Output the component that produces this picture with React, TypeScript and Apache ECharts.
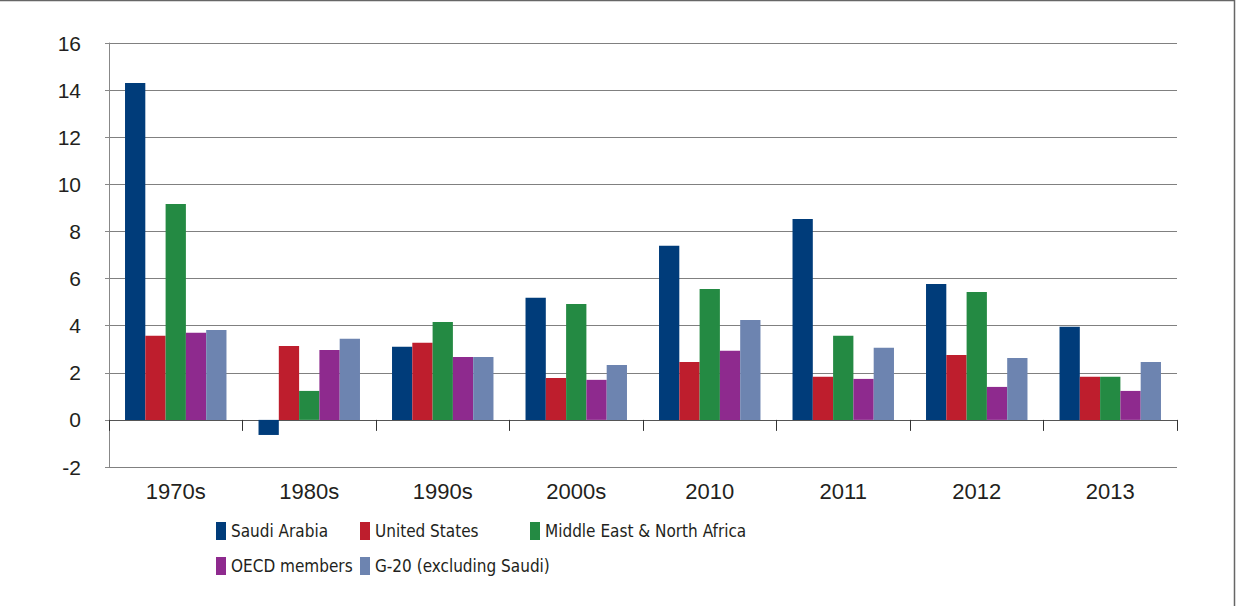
import React, { useEffect, useRef } from "react";
import * as echarts from "echarts";

const categories = ["1970s", "1980s", "1990s", "2000s", "2010", "2011", "2012", "2013"];
const saudiArabia = [14.3, -0.64, 3.1, 5.18, 7.39, 8.53, 5.77, 3.95];
const unitedStates = [3.57, 3.14, 3.27, 1.78, 2.46, 1.83, 2.76, 1.83];
const mena = [9.17, 1.23, 4.16, 4.92, 5.56, 3.57, 5.43, 1.83];
const oecd = [3.7, 2.97, 2.67, 1.7, 2.93, 1.74, 1.4, 1.23];
const g20 = [3.82, 3.44, 2.67, 2.33, 4.24, 3.06, 2.63, 2.46];
const seriesNames = [
  "Saudi Arabia",
  "United States",
  "Middle East & North Africa",
  "OECD members",
  "G-20 (excluding Saudi)",
];
const seriesColors = ["#003C7A", "#BE1E2D", "#248A43", "#8E2A8E", "#6D84B0"];
const yTicks = { min: -2, max: 16, interval: 2 };

const FONT = "'Liberation Sans', Arial, sans-serif";
const LEGEND_FONT = "'DejaVu Sans Condensed', 'Liberation Sans', sans-serif";
const TEXT = "#231F20";

export default function App() {
  const ref = useRef<HTMLDivElement>(null);
  useEffect(() => {
    if (!ref.current) return;
    const chart = echarts.init(ref.current, undefined, { renderer: "svg" });
    const data = [saudiArabia, unitedStates, mena, oecd, g20];
    const legendPos = [
      [216, 522],
      [360, 522],
      [530, 522],
      [216, 557],
      [360, 557],
    ];
    chart.setOption({
      animation: false,
      backgroundColor: "#ffffff",
      textStyle: { fontFamily: FONT },
      grid: { left: 109, right: 59, top: 43, bottom: 139, containLabel: false },
      legend: seriesNames.map((n, i) => ({
        data: [n],
        left: legendPos[i][0],
        top: legendPos[i][1],
        padding: 0,
        itemWidth: 10,
        itemHeight: 18,
        icon: "rect",
        selectedMode: false,
        textStyle: { fontFamily: LEGEND_FONT, fontSize: 17, color: TEXT },
      })),
      xAxis: {
        type: "category",
        data: categories,
        axisLine: { onZero: true, lineStyle: { color: "#555", width: 1 } },
        axisTick: { show: true, length: 11, lineStyle: { color: "#333" } },
        axisLabel: { margin: 13, fontSize: 22, color: TEXT, fontFamily: FONT },
      },
      yAxis: {
        type: "value",
        min: yTicks.min,
        max: yTicks.max,
        interval: yTicks.interval,
        axisLine: { show: true, lineStyle: { color: "#888", width: 1 } },
        axisTick: { show: true, length: 4, lineStyle: { color: "#888" } },
        splitLine: { show: true, lineStyle: { color: "#808080", width: 1 } },
        axisLabel: { margin: 28, fontSize: 21, color: TEXT, fontFamily: FONT },
      },
      series: seriesNames.map((n, i) => ({
        name: n,
        type: "bar",
        data: data[i],
        barGap: "0%",
        barCategoryGap: "24%",
        itemStyle: { color: seriesColors[i] },
      })),
      graphic: [
        { type: "line", shape: { x1: 0, y1: 0.5, x2: 1235, y2: 0.5 }, style: { stroke: "#666", lineWidth: 1.5 } },
        { type: "line", shape: { x1: 1234.5, y1: 0, x2: 1234.5, y2: 606 }, style: { stroke: "#666", lineWidth: 1.5 } },
      ],
    });
    return () => chart.dispose();
  }, []);
  return (
    <div
      ref={ref}
      style={{ position: "fixed", left: 0, top: 0, width: 1236, height: 606, background: "#fff" }}
    />
  );
}
